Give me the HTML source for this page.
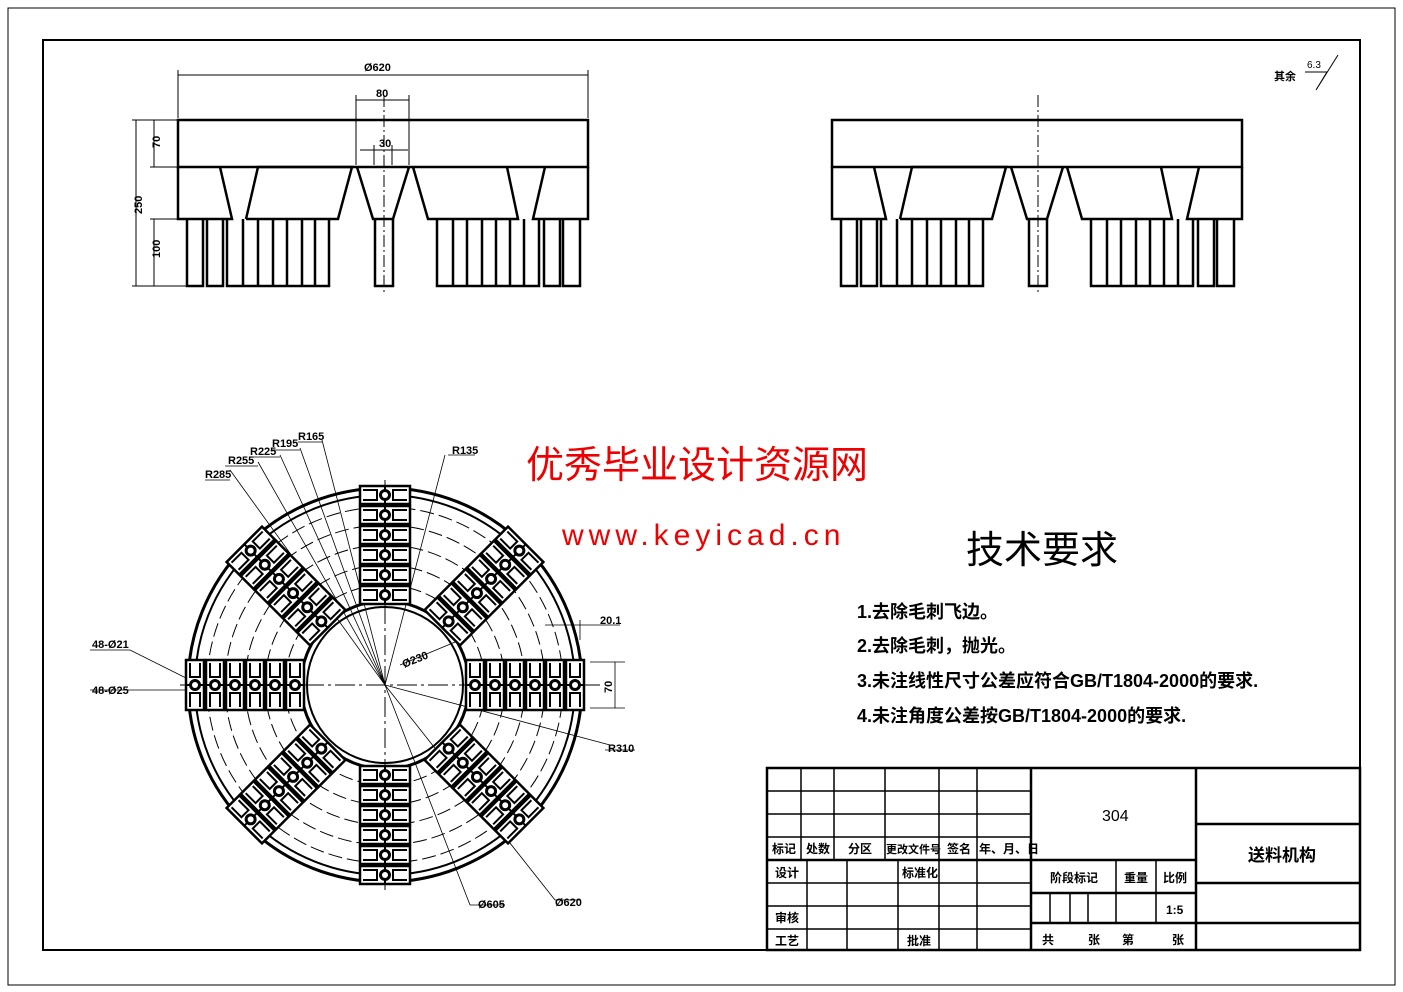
<!DOCTYPE html>
<html><head><meta charset="utf-8"><style>
html,body{margin:0;padding:0;background:#fff}
svg{display:block}
text{font-family:"Liberation Sans","Noto Sans CJK SC",sans-serif}
</style></head><body>
<svg width="1403" height="992" viewBox="0 0 1403 992" xmlns="http://www.w3.org/2000/svg">
<defs>
<g id="blk">
<rect x="-9" y="-25" width="18" height="50" fill="#fff" stroke="#000" stroke-width="2.5"/>
<path d="M-5,-22V-8H5V-22M-5,22V8H5V22" fill="none" stroke="#000" stroke-width="2"/>
<path d="M-9,0H9" stroke="#000" stroke-width="2"/>
<circle r="6" fill="#000"/><circle r="3" fill="#fff"/>
</g>
<g id="arm">
<use href="#blk" x="90" y="0"/><use href="#blk" x="110" y="0"/><use href="#blk" x="130" y="0"/>
<use href="#blk" x="150" y="0"/><use href="#blk" x="170" y="0"/><use href="#blk" x="190" y="0"/>
</g>
</defs>
<rect x="0" y="0" width="1403" height="992" fill="#fff"/>
<rect x="8" y="8" width="1387" height="977" fill="none" stroke="#000" stroke-width="1"/>
<rect x="43" y="40" width="1317" height="910" fill="none" stroke="#000" stroke-width="2"/>

<g fill="none" stroke="#000" stroke-width="2.5">
<rect x="178" y="120" width="410" height="47"/>
<path d="M178,167V219H232L220,167M246,219L258,167H352L338,219H246M357,167L373,219H393L409,167M413,167L428,219H518L507,167M545,167L533,219H588V167"/>
<path d="M187,219V286H203V219M207,219V286H223V219M227,219V286H329V219M243,219V286M258,219V286M273,219V286M287,219V286M302,219V286M315,219V286M375,219V286H393V219M437,219V286H539V219M453,219V286M467,219V286M482,219V286M496,219V286M510,219V286M524,219V286M544,219V286H560V219M563,219V286H580V219"/>
</g>
<g stroke="#000" stroke-width="1" fill="none">
<path d="M384,95V295" stroke-dasharray="12,3,2,3"/>
<path d="M178,118V70M588,118V70M178,75H588M356,165V95M409,165V95M356,100H409M374,165V145M392,165V145M360,150H408"/>
<path d="M178,120H132M178,167H150M178,219H150M187,286H132M136,120V286M154,120V167M154,219V286"/>
</g>
<g font-size="11" font-weight="bold" fill="#000">
<text x="364" y="71">Ø620</text><text x="376" y="97">80</text><text x="379" y="147">30</text>
<text transform="translate(160,148) rotate(-90)">70</text>
<text transform="translate(142,214) rotate(-90)">250</text>
<text transform="translate(160,258) rotate(-90)">100</text>
</g>

<g transform="translate(654,0)" fill="none" stroke="#000" stroke-width="2.5">
<rect x="178" y="120" width="410" height="47"/>
<path d="M178,167V219H232L220,167M246,219L258,167H352L338,219H246M357,167L373,219H393L409,167M413,167L428,219H518L507,167M545,167L533,219H588V167"/>
<path d="M187,219V286H203V219M207,219V286H223V219M227,219V286H329V219M243,219V286M258,219V286M273,219V286M287,219V286M302,219V286M315,219V286M375,219V286H393V219M437,219V286H539V219M453,219V286M467,219V286M482,219V286M496,219V286M510,219V286M524,219V286M544,219V286H560V219M563,219V286H580V219"/>
<path d="M384,95V295" stroke-width="1" stroke-dasharray="12,3,2,3"/>
</g>

<text x="1274" y="80" font-size="11" font-weight="bold">其余</text>
<text x="1307" y="68" font-size="10">6.3</text>
<path d="M1305,72H1327L1316,90L1338,55" fill="none" stroke="#000" stroke-width="1"/>

<g fill="none" stroke="#000">
<circle cx="385" cy="685" r="197" stroke-width="3"/>
<circle cx="385" cy="685" r="190" stroke-width="2"/>
<circle cx="385" cy="685" r="84" stroke-width="3"/>
<circle cx="385" cy="685" r="78" stroke-width="2"/>
<g stroke-width="1" stroke-dasharray="14,5">
<circle cx="385" cy="685" r="100"/><circle cx="385" cy="685" r="120"/><circle cx="385" cy="685" r="140"/><circle cx="385" cy="685" r="160"/><circle cx="385" cy="685" r="178"/>
</g>
<path d="M180,685H600M385,480V890" stroke-width="1" stroke-dasharray="20,4,3,4"/>
<g stroke-width="0.8">
<path d="M385,685L230,470M385,685L258,462M385,685L280,455M385,685L300,448M385,685L322,440M385,685L445,455M385,685L610,745M385,685L470,905M385,685L555,900"/>
<path d="M205,480H230M225,466H258M250,457H280M272,450H300M298,442H322M448,455H475M605,750H635M470,905H505M555,900H580"/>
<path d="M90,650H130L190,680M90,690H190M545,625H620M580,620V640M590,662H625M590,708H625M615,662V708"/>
<path d="M400,665L460,640"/>
</g>
</g>
<g transform="translate(385,685)">
<use href="#arm" transform="rotate(0)"/><use href="#arm" transform="rotate(45)"/>
<use href="#arm" transform="rotate(90)"/><use href="#arm" transform="rotate(135)"/>
<use href="#arm" transform="rotate(180)"/><use href="#arm" transform="rotate(225)"/>
<use href="#arm" transform="rotate(270)"/><use href="#arm" transform="rotate(315)"/>
</g>
<g font-size="11" font-weight="bold" fill="#000">
<text x="205" y="478">R285</text><text x="228" y="464">R255</text><text x="250" y="455">R225</text>
<text x="272" y="447">R195</text><text x="298" y="440">R165</text><text x="452" y="454">R135</text>
<text x="600" y="624">20.1</text><text transform="translate(612,693) rotate(-90)">70</text>
<text x="608" y="752">R310</text><text x="478" y="908">Ø605</text><text x="555" y="906">Ø620</text>
<text x="92" y="648">48-Ø21</text><text x="92" y="694">48-Ø25</text>
<text transform="translate(404,668) rotate(-22)">Ø230</text>
</g>

<text x="526" y="478" font-size="38" fill="#e00" font-family="Liberation Serif,Noto Serif CJK SC,serif">优秀毕业设计资源网</text>
<text x="562" y="545" font-size="30" fill="#e00" font-family="Liberation Serif,serif" letter-spacing="5">www.keyicad.cn</text>

<text x="966" y="563" font-size="38" fill="#000" font-family="Liberation Serif,Noto Serif CJK SC,serif">技术要求</text>
<g font-size="18" font-weight="bold" fill="#000">
<text x="857" y="618">1.去除毛刺飞边。</text>
<text x="857" y="652">2.去除毛刺，抛光。</text>
<text x="857" y="687">3.未注线性尺寸公差应符合GB/T1804-2000的要求.</text>
<text x="857" y="722">4.未注角度公差按GB/T1804-2000的要求.</text>
</g>

<g fill="none" stroke="#000" stroke-width="1.5">
<rect x="767" y="768" width="593" height="182" stroke-width="2.5"/>
<path d="M767,791H1031M767,814H1031M767,837H1031M767,883H1031M767,906H1031M767,929H1031"/>
<path d="M767,860H1031M1031,768V950M1196,768V950M1031,860H1196M1031,893H1196M1031,923H1196M1196,824H1360M1196,883H1360M1196,923H1360" stroke-width="2.5"/>
<path d="M801,768V860M834,768V860M885,768V860M939,768V860M977,768V860"/>
<path d="M807,860V950M847,860V950M898,860V950M939,860V950M977,860V950"/>
<path d="M1116,860V923M1156,860V923M1050,893V923M1070,893V923M1088,893V923"/>
</g>
<g font-size="12" font-weight="bold" fill="#000">
<text x="772" y="853">标记</text><text x="806" y="853">处数</text><text x="848" y="853">分区</text>
<text x="886" y="853" font-size="11">更改文件号</text><text x="947" y="853">签名</text><text x="979" y="853">年、月、日</text>
<text x="775" y="877">设计</text><text x="902" y="877">标准化</text>
<text x="775" y="922">审核</text><text x="775" y="945">工艺</text><text x="907" y="945">批准</text>
<text x="1050" y="882">阶段标记</text><text x="1124" y="882">重量</text><text x="1163" y="882">比例</text>
<text x="1166" y="914">1:5</text>
<text x="1042" y="944">共</text><text x="1088" y="944">张</text><text x="1122" y="944">第</text><text x="1172" y="944">张</text>
<text x="1102" y="821" font-size="16" font-weight="normal">304</text>
<text x="1248" y="861" font-size="17">送料机构</text>
</g>
</svg>
</body></html>
